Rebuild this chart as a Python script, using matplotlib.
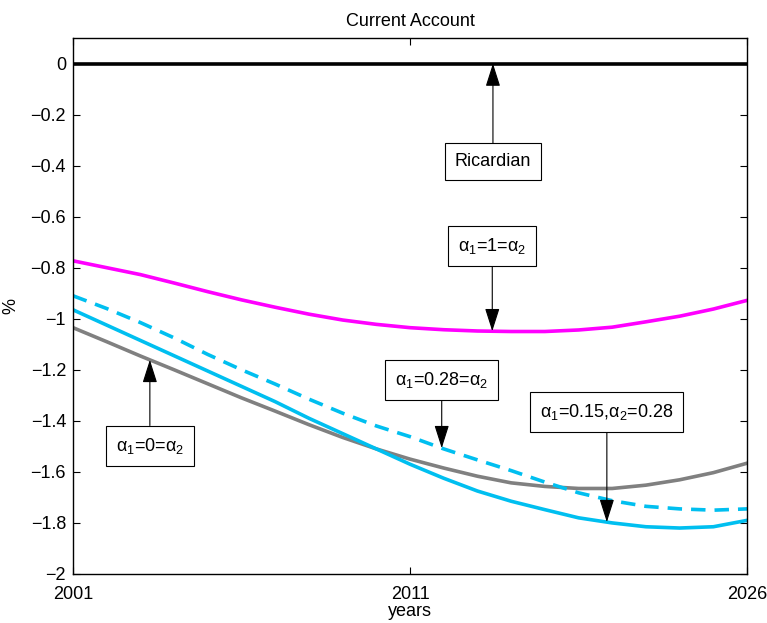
import numpy as np
import matplotlib.pyplot as plt

plt.rcParams['font.family'] = ['Liberation Sans', 'DejaVu Sans']
plt.rcParams['mathtext.fontset'] = 'custom'
plt.rcParams['mathtext.rm'] = 'Liberation Sans'
plt.rcParams['mathtext.it'] = 'Liberation Sans'

# time index (quarters, 0..100), sampled every 5
t = np.arange(0, 101, 5)

ricardian = [0.0] * 21
alpha_1 = [-0.773, -0.800, -0.827, -0.860, -0.894, -0.926, -0.955, -0.982, -1.005, -1.022,
           -1.035, -1.043, -1.048, -1.050, -1.050, -1.044, -1.033, -1.012, -0.990, -0.962, -0.928]
alpha_015_028 = [-0.965, -1.025, -1.085, -1.145, -1.205, -1.265, -1.325, -1.390, -1.450, -1.510,
                 -1.570, -1.625, -1.675, -1.715, -1.748, -1.780, -1.800, -1.815, -1.820, -1.815, -1.790]
alpha_028 = [-0.910, -0.960, -1.015, -1.075, -1.140, -1.200, -1.256, -1.315, -1.370, -1.420,
             -1.462, -1.510, -1.553, -1.595, -1.640, -1.682, -1.713, -1.735, -1.745, -1.750, -1.745]
alpha_0 = [-1.035, -1.090, -1.146, -1.200, -1.255, -1.310, -1.362, -1.415, -1.465, -1.510,
           -1.550, -1.585, -1.617, -1.643, -1.657, -1.665, -1.665, -1.652, -1.631, -1.603, -1.566]

xtick_pos = [0, 50, 100]
xtick_labels = ['2001', '2011', '2026']

fig = plt.figure(figsize=(7.67, 6.23), dpi=100)
ax = fig.add_axes([0.0952, 0.0787, 0.8788, 0.8603])

ax.plot(t, ricardian, color='black', lw=2.6)
ax.plot(t, alpha_1, color='#ff00ff', lw=2.6)
ax.plot(t, alpha_0, color='#808080', lw=2.6)
ax.plot(t, alpha_015_028, color='#00bff0', lw=2.6)
ax.plot(t, alpha_028, color='#00bff0', lw=2.6, dashes=[4, 2.5])

ax.set_xlim(0, 100)
ax.set_ylim(-2, 0.1)
ax.set_yticks(np.arange(-2, 0.01, 0.2))
ax.set_yticklabels(['\u22122', '\u22121.8', '\u22121.6', '\u22121.4', '\u22121.2', '\u22121',
                    '\u22120.8', '\u22120.6', '\u22120.4', '\u22120.2', '0'])
ax.set_xticks(xtick_pos)
ax.set_xticklabels(xtick_labels)
ax.tick_params(direction='in', top=True, right=True, length=5, labelsize=13, width=0.8)
ax.tick_params(axis='x', pad=9)
ax.tick_params(axis='y', pad=5)
for s in ax.spines.values():
    s.set_linewidth(1.0)

ax.set_title('Current Account', fontsize=13, pad=9)
ax.set_xlabel('years', fontsize=13, labelpad=0)
ax.set_ylabel('%', fontsize=13, labelpad=8)

box = dict(boxstyle='square,pad=0.55', fc='white', ec='black', lw=0.8)
arrow = dict(arrowstyle='-|>,head_length=1.1,head_width=0.35', color='black', lw=0.8,
             shrinkA=0, shrinkB=0)

# (label, x of arrow, text y, series pointed at)
notes = [
    ('Ricardian', 62.3, -0.385, ricardian),
    ('\u03b1$_1$=1=\u03b1$_2$', 62.2, -0.714, alpha_1),
    ('\u03b1$_1$=0=\u03b1$_2$', 11.4, -1.498, alpha_0),
    ('\u03b1$_1$=0.28=\u03b1$_2$', 54.7, -1.239, alpha_028),
    ('\u03b1$_1$=0.15,\u03b1$_2$=0.28', 79.2, -1.365, alpha_015_028),
]
for label, xa, ty, series in notes:
    ya = np.interp(xa, t, series)
    ax.annotate(label, xy=(xa, ya), xytext=(xa, ty), fontsize=13,
                ha='center', va='center', bbox=box, arrowprops=arrow)

fig.savefig('out.png', dpi=100)
